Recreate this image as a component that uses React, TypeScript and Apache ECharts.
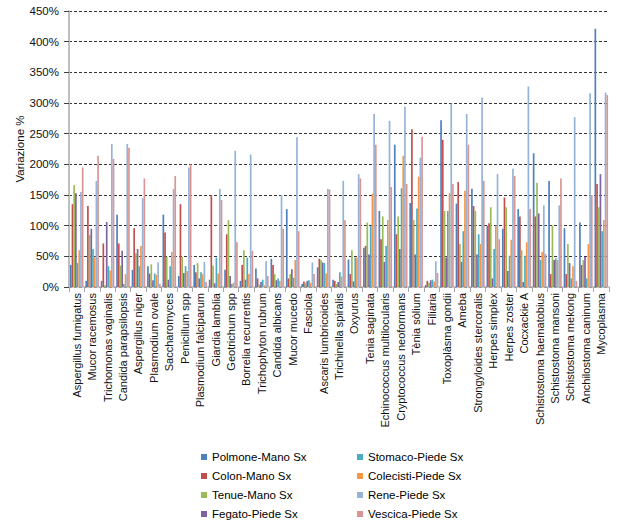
import React, { useEffect, useRef } from "react";
import * as echarts from "echarts";

const categories = [
  "Aspergillus fumigatus", "Mucor racemosus", "Trichomonas vaginalis", "Candida parapsilopsis",
  "Aspergillus niger", "Plasmodium ovale", "Saccharomyces", "Penicillum spp",
  "Plasmodium falciparum", "Giardia lamblia", "Geotrichum spp", "Borrelia recurrentis",
  "Trichophyton rubrum", "Candida albicans", "Mucor mucedo", "Fasciola",
  "Ascaris lumbricoides", "Trichinella spiralis", "Oxyurus", "Tenia saginata",
  "Echinococcus multilocularis", "Cryptococcus neoformans", "Tènia sòlium", "Filiaria",
  "Toxoplàsma gondii", "Ameba", "Strongyloides stercoralis", "Herpes simplex",
  "Herpes zoster", "Cocxackie A", "Schistostoma haematobius", "Schistostoma mansoni",
  "Schistostoma mekong", "Anchilostoma caninum", "Mycoplasma",
];

const polmoneMano = [36, 10, 10, 118, 28, 34, 118, 18, 36, 12, 28, 10, 30, 46, 127, 5, 32, 12, 45, 64, 124, 232, 137, 3, 272, 136, 160, 100, 95, 127, 218, 173, 96, 105, 421];
const colonMano = [135, 132, 71, 71, 96, 22, 89, 135, 24, 150, 86, 36, 14, 36, 14, 9, 46, 10, 21, 67, 78, 86, 257, 10, 240, 171, 132, 104, 146, 115, 115, 21, 21, 36, 168];
const tenueMano = [166, 85, 3, 35, 55, 37, 49, 49, 39, 35, 109, 60, 4, 21, 21, 7, 44, 5, 60, 105, 115, 115, 109, 7, 124, 70, 124, 130, 130, 60, 170, 100, 70, 44, 130];
const fegatoPiede = [153, 95, 106, 59, 62, 11, 12, 23, 14, 6, 18, 12, 8, 11, 29, 10, 40, 8, 9, 53, 41, 62, 53, 11, 48, 41, 53, 14, 26, 8, 120, 44, 39, 49, 184];
const stomacoPiede = [39, 62, 34, 5, 34, 22, 34, 34, 24, 48, 5, 48, 12, 14, 15, 11, 39, 24, 48, 100, 67, 161, 128, 12, 124, 91, 86, 62, 51, 51, 44, 47, 14, 14, 91];
const colecistiPiede = [60, 48, 27, 21, 67, 20, 57, 26, 21, 22, 7, 21, 3, 10, 44, 7, 22, 17, 48, 152, 109, 214, 180, 9, 153, 157, 70, 100, 77, 73, 57, 44, 34, 70, 109];
const renePiede = [155, 173, 233, 233, 145, 40, 160, 195, 41, 160, 222, 216, 42, 150, 244, 40, 160, 173, 184, 282, 271, 294, 211, 42, 299, 282, 309, 184, 193, 327, 133, 133, 277, 316, 317];
const vescicaPiede = [195, 214, 209, 227, 177, 5, 181, 200, 8, 142, 73, 59, 18, 95, 91, 21, 159, 109, 177, 232, 163, 168, 245, 23, 168, 232, 173, 78, 181, 127, 54, 177, 10, 150, 313];

const yTicks = [0, 50, 100, 150, 200, 250, 300, 350, 400, 450];

const seriesDefs = [
  { name: "Polmone-Mano Sx", data: polmoneMano, color: "#4F81BD" },
  { name: "Colon-Mano Sx", data: colonMano, color: "#C0504D" },
  { name: "Tenue-Mano Sx", data: tenueMano, color: "#9BBB59" },
  { name: "Fegato-Piede Sx", data: fegatoPiede, color: "#8064A2" },
  { name: "Stomaco-Piede Sx", data: stomacoPiede, color: "#4BACC6" },
  { name: "Colecisti-Piede Sx", data: colecistiPiede, color: "#F79646" },
  { name: "Rene-Piede Sx", data: renePiede, color: "#95B3D7" },
  { name: "Vescica-Piede Sx", data: vescicaPiede, color: "#D99694" },
];

const FONT = "'Liberation Sans', Arial, sans-serif";

export default function App() {
  const ref = useRef<HTMLDivElement>(null);
  useEffect(() => {
    if (!ref.current) return;
    const chart = echarts.init(ref.current, null, { renderer: "svg" });
    const legendCommon = {
      orient: "vertical" as const,
      icon: "rect",
      itemWidth: 6,
      itemHeight: 6,
      itemGap: 5,
      height: 78,
      textStyle: { fontFamily: FONT, fontSize: 11.5, color: "#000", lineHeight: 14 },
      top: 445,
    };
    chart.setOption({
      animation: false,
      textStyle: { fontFamily: FONT },
      grid: { left: 69, right: 11, top: 11, bottom: 242, containLabel: false },
      legend: [
        { ...legendCommon, left: 196, data: ["Polmone-Mano Sx", "Colon-Mano Sx", "Tenue-Mano Sx", "Fegato-Piede Sx"] },
        { ...legendCommon, left: 352, data: ["Stomaco-Piede Sx", "Colecisti-Piede Sx", "Rene-Piede Sx", "Vescica-Piede Sx"] },
      ],
      xAxis: {
        type: "category",
        data: categories,
        axisLine: { lineStyle: { color: "#bfbfbf", width: 1.5 } },
        axisTick: { show: true, length: 5, lineStyle: { color: "#a6a6a6" } },
        axisLabel: { rotate: 90, interval: 0, fontSize: 11, color: "#111", margin: 6, fontFamily: FONT },
      },
      yAxis: {
        type: "value",
        min: yTicks[0],
        max: yTicks[yTicks.length - 1],
        interval: 50,
        name: "Variazione %",
        nameLocation: "middle",
        nameGap: 43,
        nameMoveOverlap: false,
        nameTextStyle: { fontSize: 11.5, color: "#111", fontFamily: FONT },
        axisLine: { show: true, lineStyle: { color: "#bfbfbf", width: 2 } },
        axisTick: { show: true, length: 5, lineStyle: { color: "#404040" } },
        axisLabel: { formatter: "{value}%", fontSize: 11.5, color: "#111", margin: 10, fontFamily: FONT },
        splitLine: { show: true, lineStyle: { color: "#333", type: [3, 2], width: 1 } },
      },
      series: seriesDefs.map((s) => ({
        name: s.name,
        type: "bar",
        data: s.data,
        barGap: "0%",
        barCategoryGap: "12%",
        itemStyle: { color: s.color },
      })),
    });
    return () => chart.dispose();
  }, []);
  return (
    <div
      ref={ref}
      style={{ position: "absolute", left: 0, top: 0, width: 620, height: 529 }}
    />
  );
}
